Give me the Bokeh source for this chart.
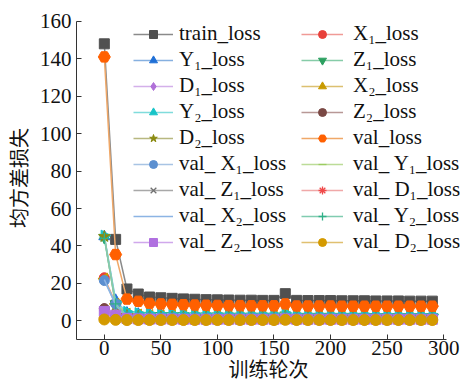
import math
from bokeh.plotting import figure
from bokeh.models import Legend, LegendItem, Range1d
from bokeh.embed import file_html
from bokeh.resources import INLINE

epochs = [0, 10, 20, 30, 40, 50, 60, 70, 80, 90, 100, 110, 120, 130, 140,
          150, 160, 170, 180, 190, 200, 210, 220, 230, 240, 250, 260, 270, 280, 290]

train_loss = [148.0, 43.5, 17.0, 14.3, 12.7, 12.3, 12.0, 11.7, 11.5, 11.3, 11.2, 11.1, 11.0, 11.0, 10.9,
              10.9, 14.5, 10.9, 10.8, 10.8, 10.8, 10.7, 10.7, 10.7, 10.6, 10.6, 10.6, 10.5, 10.5, 10.5]
X1_loss = [23.0, 9.5, 3.0, 2.6, 2.4, 2.3, 2.2, 2.2, 2.1, 2.1, 2.0, 2.0, 2.0, 2.0, 1.9,
           1.9, 2.6, 1.9, 1.9, 1.9, 1.8, 1.8, 1.8, 1.8, 1.8, 1.8, 1.7, 1.7, 1.7, 1.7]
Y1_loss = [45.0, 11.0, 4.2, 3.6, 3.3, 3.2, 3.1, 3.0, 3.0, 2.9, 2.9, 2.9, 2.8, 2.8, 2.8,
           2.8, 3.5, 2.8, 2.7, 2.7, 2.7, 2.7, 2.7, 2.6, 2.6, 2.6, 2.6, 2.6, 2.6, 2.6]
Z1_loss = [44.5, 9.0, 3.5, 3.0, 2.8, 2.7, 2.6, 2.6, 2.5, 2.5, 2.5, 2.4, 2.4, 2.4, 2.4,
           2.4, 3.0, 2.3, 2.3, 2.3, 2.3, 2.3, 2.3, 2.3, 2.2, 2.2, 2.2, 2.2, 2.2, 2.2]
D1_loss = [6.0, 3.0, 1.6, 1.4, 1.3, 1.3, 1.2, 1.2, 1.2, 1.1, 1.1, 1.1, 1.1, 1.1, 1.1,
           1.0, 1.4, 1.0, 1.0, 1.0, 1.0, 1.0, 1.0, 1.0, 1.0, 1.0, 1.0, 1.0, 1.0, 1.0]
X2_loss = [22.5, 9.0, 3.8, 3.3, 3.1, 3.0, 3.0, 2.9, 2.9, 2.9, 2.8, 2.8, 2.8, 2.8, 2.8,
           2.7, 3.6, 2.7, 2.7, 2.7, 2.7, 2.7, 2.7, 2.6, 2.6, 2.6, 2.6, 2.6, 2.6, 2.6]
Y2_loss = [45.5, 10.0, 4.8, 4.1, 3.9, 3.8, 3.7, 3.7, 3.6, 3.6, 3.6, 3.5, 3.5, 3.5, 3.5,
           3.5, 4.2, 3.5, 3.4, 3.4, 3.4, 3.4, 3.4, 3.4, 3.4, 3.4, 3.3, 3.3, 3.3, 3.3]
Z2_loss = [6.5, 2.5, 1.2, 1.0, 1.0, 0.9, 0.9, 0.9, 0.9, 0.9, 0.8, 0.8, 0.8, 0.8, 0.8,
           0.8, 1.1, 0.8, 0.8, 0.8, 0.8, 0.8, 0.8, 0.8, 0.8, 0.8, 0.8, 0.8, 0.8, 0.8]
D2_loss = [45.0, 8.0, 2.8, 2.4, 2.2, 2.1, 2.1, 2.0, 2.0, 2.0, 2.0, 1.9, 1.9, 1.9, 1.9,
           1.9, 2.5, 1.9, 1.9, 1.8, 1.8, 1.8, 1.8, 1.8, 1.8, 1.8, 1.8, 1.8, 1.8, 1.8]
val_loss = [141.0, 35.4, 11.6, 10.4, 9.3, 9.0, 8.8, 8.6, 8.4, 8.3, 8.2, 8.1, 8.1, 8.0, 8.0,
            8.0, 9.0, 7.9, 7.9, 7.9, 7.9, 7.8, 7.8, 7.8, 7.8, 7.8, 7.8, 7.8, 7.8, 7.8]
val_X1_loss = [21.5, 9.0, 2.0, 1.6, 1.5, 1.4, 1.4, 1.3, 1.3, 1.3, 1.3, 1.2, 1.2, 1.2, 1.2,
               1.2, 1.6, 1.2, 1.2, 1.2, 1.1, 1.1, 1.1, 1.1, 1.1, 1.1, 1.1, 1.1, 1.1, 1.1]
val_Y1_loss = [1.2, 0.8, 0.6, 0.6, 0.5, 0.5, 0.5, 0.5, 0.5, 0.5, 0.5, 0.5, 0.5, 0.5, 0.5,
               0.5, 0.7, 0.5, 0.5, 0.5, 0.5, 0.5, 0.5, 0.5, 0.5, 0.5, 0.5, 0.5, 0.5, 0.5]
val_Z1_loss = [1.0, 0.7, 0.5, 0.5, 0.4, 0.4, 0.4, 0.4, 0.4, 0.4, 0.4, 0.4, 0.4, 0.4, 0.4,
               0.4, 0.6, 0.4, 0.4, 0.4, 0.4, 0.4, 0.4, 0.4, 0.4, 0.4, 0.4, 0.4, 0.4, 0.4]
val_D1_loss = [1.5, 0.9, 0.6, 0.6, 0.6, 0.5, 0.5, 0.5, 0.5, 0.5, 0.5, 0.5, 0.5, 0.5, 0.5,
               0.5, 0.7, 0.5, 0.5, 0.5, 0.5, 0.5, 0.5, 0.5, 0.5, 0.5, 0.5, 0.5, 0.5, 0.5]
val_X2_loss = [22.0, 8.5, 1.8, 1.5, 1.4, 1.4, 1.3, 1.3, 1.3, 1.2, 1.2, 1.2, 1.2, 1.2, 1.2,
               1.2, 1.5, 1.2, 1.1, 1.1, 1.1, 1.1, 1.1, 1.1, 1.1, 1.1, 1.1, 1.1, 1.1, 1.1]
val_Y2_loss = [44.0, 9.0, 2.5, 2.1, 2.0, 1.9, 1.9, 1.8, 1.8, 1.8, 1.8, 1.8, 1.7, 1.7, 1.7,
               1.7, 2.2, 1.7, 1.7, 1.7, 1.7, 1.7, 1.7, 1.7, 1.7, 1.7, 1.7, 1.7, 1.7, 1.7]
val_Z2_loss = [5.0, 3.0, 1.2, 1.0, 0.9, 0.9, 0.9, 0.8, 0.8, 0.8, 0.8, 0.8, 0.8, 0.8, 0.8,
               0.8, 1.0, 0.8, 0.8, 0.8, 0.8, 0.8, 0.8, 0.8, 0.8, 0.8, 0.8, 0.8, 0.8, 0.8]
val_D2_loss = [0.7, 0.5, 0.4, 0.4, 0.4, 0.4, 0.4, 0.4, 0.4, 0.4, 0.4, 0.4, 0.4, 0.4, 0.4,
               0.4, 0.5, 0.4, 0.4, 0.4, 0.4, 0.4, 0.4, 0.4, 0.4, 0.4, 0.4, 0.4, 0.4, 0.4]

labels = ["train_loss", "X₁_loss", "Y₁_loss", "Z₁_loss", "D₁_loss", "X₂_loss",
          "Y₂_loss", "Z₂_loss", "D₂_loss", "val_loss", "val_ X₁_loss", "val_ Y₁_loss",
          "val_ Z₁_loss", "val_ D₁_loss", "val_ X₂_loss", "val_ Y₂_loss", "val_ Z₂_loss",
          "val_ D₂_loss"]
series = [train_loss, X1_loss, Y1_loss, Z1_loss, D1_loss, X2_loss, Y2_loss, Z2_loss, D2_loss,
          val_loss, val_X1_loss, val_Y1_loss, val_Z1_loss, val_D1_loss, val_X2_loss,
          val_Y2_loss, val_Z2_loss, val_D2_loss]

x_ticks = [0, 50, 100, 150, 200, 250, 300]
y_ticks = [0, 20, 40, 60, 80, 100, 120, 140, 160]

# (marker, marker colour, line colour, size, angle)
styles = [
    ("square", "#505050", "#8a8a8a", 10, 0),
    ("circle", "#e8403a", "#f09a96", 10, 0),
    ("triangle", "#1f6fd6", "#86b0e0", 11, 0),
    ("inverted_triangle", "#2ca060", "#86cca8", 11, 0),
    ("diamond", "#b070d8", "#d4b0ea", 13, 0),
    ("triangle", "#c89a00", "#dcc070", 11, math.pi / 2),
    ("triangle", "#18c4c8", "#80dcdc", 11, -math.pi / 2),
    ("circle", "#7a4844", "#b89896", 10, 0),
    ("star", "#8a8a10", "#b8b880", 12, 0),
    ("hex", "#ff6000", "#f0a868", 12, 0),
    ("circle", "#5b8fd0", "#a8c4e4", 10, 0),
    ("dash", "#9ccc60", "#bcdc98", 10, math.pi / 2),
    ("x", "#707070", "#a8a8a8", 11, 0),
    ("asterisk", "#f04848", "#f0a8a8", 11, 0),
    (None, "#6a9ad8", "#8cb4e4", 0, 0),
    ("cross", "#30b088", "#80ccb0", 11, 0),
    ("square", "#b070e0", "#d0a8ec", 10, 0),
    ("circle", "#d49a00", "#e0c070", 11, 0),
]

SERIF = "Liberation Serif"
CJK = "Noto Sans CJK SC"

p = figure(width=460, height=385, output_backend="svg", toolbar_location=None,
           x_range=Range1d(-24.6, 314.9), y_range=Range1d(-10, 162.6),
           min_border_left=73, min_border_right=0, min_border_top=16, min_border_bottom=42)
p.outline_line_color = None
p.grid.visible = False
p.background_fill_color = "white"
p.border_fill_color = "white"

for ax in (p.xaxis[0], p.yaxis[0]):
    ax.major_tick_in = 5
    ax.major_tick_out = 0
    ax.minor_tick_in = 0
    ax.minor_tick_out = 0
    ax.axis_line_color = "#333333"
    ax.major_tick_line_color = "#333333"
    ax.major_label_text_font = SERIF
    ax.major_label_text_font_size = "21px"
    ax.major_label_text_color = "#111111"
    ax.axis_label_text_font = CJK
    ax.axis_label_text_font_size = "20px"
    ax.axis_label_text_font_style = "normal"
    ax.axis_label_text_color = "#111111"

p.xaxis.bounds = (-24.6, 302.6)
p.yaxis.bounds = (-10, 160)
p.xaxis.ticker = x_ticks
p.yaxis.ticker = y_ticks
p.xaxis.axis_label = "训练轮次"
p.yaxis.axis_label = "均方差损失"
p.xaxis.major_label_standoff = 1
p.xaxis.axis_label_standoff = -4
p.yaxis.major_label_standoff = 5
p.yaxis.axis_label_standoff = 4

items = []
for lab, ys, (mk, mc, lc, sz, ang) in zip(labels, series, styles):
    rs = [p.line(epochs, ys, line_color=lc, line_width=1.5)]
    if mk is not None:
        if mk in ("x", "cross", "asterisk", "dash"):
            rs.append(p.scatter(epochs, ys, marker=mk, size=sz, angle=ang,
                                line_color=mc, line_width=1.3))
        else:
            rs.append(p.scatter(epochs, ys, marker=mk, size=sz, angle=ang,
                                fill_color=mc, line_color=mc))
    items.append(LegendItem(label=lab, renderers=rs))

col1 = items[0::2]
col2 = items[1::2]

def make_legend(its, loc, gw, standoff):
    return Legend(items=its, location=loc, orientation="vertical",
                  label_text_font=SERIF, label_text_font_size="21px",
                  label_text_color="#111111", label_height=20, glyph_height=20,
                  glyph_width=gw, label_standoff=standoff, spacing=1, padding=0,
                  margin=0, border_line_alpha=0, background_fill_alpha=0)

p.add_layout(make_legend(col1, (57, 85), 40, 6))
p.add_layout(make_legend(col2, (225, 85), 42, 10))

open("out.html", "w").write(file_html(p, INLINE))
